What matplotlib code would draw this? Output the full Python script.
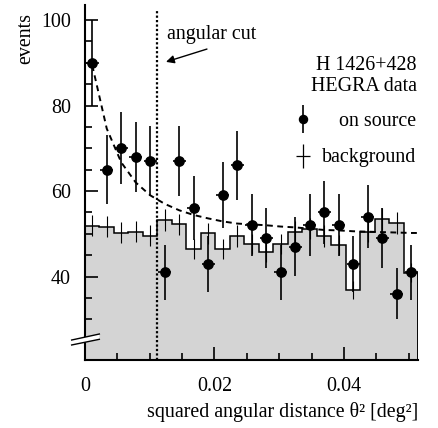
import numpy as np
import matplotlib
matplotlib.use('Agg')
import matplotlib.pyplot as plt
from matplotlib.ticker import FixedLocator, FixedFormatter
from matplotlib.lines import Line2D

plt.rcParams['font.family'] = ['Liberation Serif', 'DejaVu Serif']
plt.rcParams['font.size'] = 14.4

# theta^2 binning
bin_width = 0.00224
angular_cut = 0.0112

on_source = [90, 65, 70, 68, 67, 41, 67, 56, 43, 59, 66, 52,
             49, 41, 47, 52, 55, 52, 43, 54, 49, 36, 41]
on_err = [10.0, 8.1, 8.4, 8.2, 8.2, 6.4, 8.2, 7.5, 6.6, 7.7, 8.1, 7.2,
          7.0, 6.4, 6.9, 7.2, 7.4, 7.2, 6.6, 7.3, 7.0, 6.0, 6.4]

background = [51.9, 51.7, 50.3, 50.5, 49.6, 53.2, 52.2, 46.5, 50.1, 46.4, 49.5, 47.6,
              45.8, 47.6, 50.4, 51.2, 49.5, 47.4, 36.9, 50.5, 53.4, 52.5, 40.9]
bg_err = [2.5, 2.5, 2.5, 2.5, 2.5, 2.6, 2.5, 2.4, 2.5, 2.4, 2.5, 2.4,
          2.4, 2.4, 2.5, 2.5, 2.5, 2.4, 2.1, 2.5, 2.6, 2.5, 2.2]

# dashed fit curve read at bin centres (+ right end)
fit_y = [89.4, 74.6, 66.7, 62.0, 59.0, 57.0, 55.5, 54.4, 53.6, 52.9, 52.4, 52.2,
         52.0, 51.7, 51.5, 51.2, 50.9, 50.8, 50.6, 50.5, 50.4, 50.3, 50.2]
fit_end = 50.2

n = len(on_source)
edges = np.arange(n + 1) * bin_width
centers = edges[:-1] + bin_width / 2

fig = plt.figure(figsize=(4.39, 4.28), dpi=100)
ax = fig.add_axes([85 / 439, 68 / 428, 333.5 / 439, 355 / 428])

# background histogram
ax.fill_between(edges, np.r_[background, background[-1]], 0, step='post',
                color='#d4d4d4', lw=0, zorder=1)
ax.stairs(background, edges, color='black', lw=1.1, zorder=2)
ax.plot([edges[-1], edges[-1]], [0, background[-1]], color='black', lw=1.1, zorder=2)
ax.errorbar(centers, background, yerr=bg_err, fmt='none', ecolor='black',
            elinewidth=0.8, zorder=3)

# fit and cut
ax.plot(np.r_[centers, edges[-1]], np.r_[fit_y, fit_end], color='black', lw=1.4,
        ls=(0, (3, 2.3)), zorder=4)
ax.axvline(angular_cut, ymax=0.985, color='black', lw=1.6, ls=(0, (1, 1)), zorder=4)

# on source points
ax.errorbar(centers, on_source, yerr=on_err, xerr=bin_width * 0.46, fmt='o', color='black',
            ms=6.7, elinewidth=1.2, capsize=0, zorder=5)

ax.set_xlim(0, edges[-1])
ax.set_ylim(20.5, 103.5)

for s in ['top', 'right']:
    ax.spines[s].set_visible(False)
for s in ['left', 'bottom']:
    ax.spines[s].set_linewidth(1.5)

ax.xaxis.set_major_locator(FixedLocator([0, 0.02, 0.04]))
ax.xaxis.set_major_formatter(FixedFormatter(['0', '0.02', '0.04']))
ax.xaxis.set_minor_locator(FixedLocator([0.005, 0.01, 0.015, 0.025, 0.03, 0.035, 0.045, 0.05]))
ax.yaxis.set_major_locator(FixedLocator([40, 60, 80, 100]))
ax.yaxis.set_minor_locator(FixedLocator([30, 35, 45, 50, 55, 65, 70, 75, 85, 90, 95]))
ax.tick_params(which='both', direction='in', width=1.2)
ax.tick_params(which='major', length=9.5)
ax.tick_params(which='minor', length=5)
ax.tick_params(axis='y', which='major', pad=10)
ax.tick_params(axis='x', which='major', pad=12)

# axis break
up = [(-0.040, 0.0563), (0.043, 0.0732)]
lo = [(-0.040, 0.0423), (0.043, 0.0583)]
poly = plt.Polygon([up[0], up[1], lo[1], lo[0]], closed=True, transform=ax.transAxes,
                   facecolor='white', edgecolor='none', clip_on=False, zorder=10)
ax.add_patch(poly)
for seg in (up, lo):
    ax.add_line(Line2D([seg[0][0], seg[1][0]], [seg[0][1], seg[1][1]], transform=ax.transAxes,
                       color='black', lw=1.0, clip_on=False, zorder=11))

# texts
ax.annotate('', xy=(0.01251, 90.2), xytext=(0.01884, 93.2),
            arrowprops=dict(arrowstyle='-|>', color='black', lw=1.0,
                            mutation_scale=12, shrinkA=0, shrinkB=0))
ax.text(0.01262, 95.5, 'angular cut', ha='left', va='baseline')
ax.text(0.05122, 88.3, 'H 1426+428', ha='right', va='baseline')
ax.text(0.05122, 83.5, 'HEGRA data', ha='right', va='baseline')
ax.text(0.05122, 75.2, 'on source', ha='right', va='baseline')
ax.text(0.05122, 66.7, 'background', ha='right', va='baseline')

# legend symbols
ax.errorbar([0.03371], [76.8], yerr=[3.3], fmt='o', color='black', ms=5.8,
            elinewidth=1.2, capsize=0, zorder=6)
ax.errorbar([0.03371], [68.2], yerr=[2.7], xerr=[0.00108], fmt='none',
            ecolor='black', elinewidth=0.9, capsize=0, zorder=6)

fig.text(25.5 / 439, 1 - 13 / 428, 'events', rotation=90, ha='center', va='top')
fig.text(418 / 439, 11 / 428, 'squared angular distance θ² [deg²]', ha='right', va='baseline')

fig.savefig('out.png', dpi=100)
